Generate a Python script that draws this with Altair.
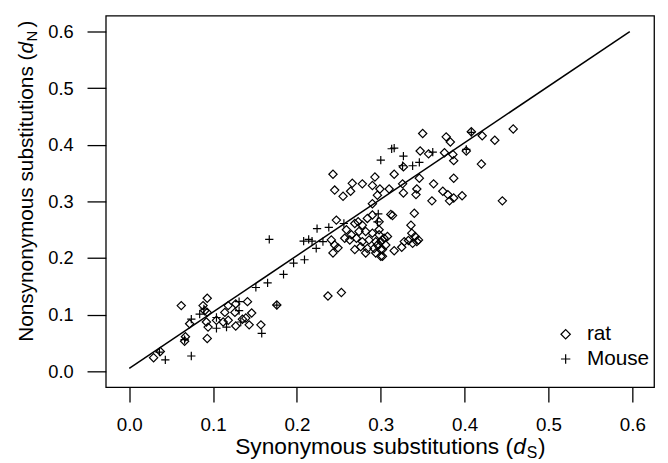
import altair as alt
import pandas as pd

# ---- data ----
rat_x = [0.029, 0.037, 0.062, 0.066, 0.067, 0.072, 0.088, 0.090, 0.093, 0.093, 0.092, 0.094, 0.093,
         0.104, 0.112, 0.114, 0.118, 0.118, 0.126, 0.127, 0.127, 0.135, 0.139, 0.141, 0.143, 0.146,
         0.157, 0.176,
         0.237, 0.253,
         0.241, 0.245, 0.243, 0.249, 0.247, 0.257, 0.265, 0.263, 0.269, 0.259, 0.269, 0.273, 0.278,
         0.284, 0.290, 0.298, 0.274, 0.282, 0.290, 0.298, 0.271, 0.278, 0.286, 0.294, 0.302, 0.276,
         0.284, 0.292, 0.300, 0.282, 0.294, 0.302, 0.298, 0.304, 0.300, 0.306, 0.302, 0.300, 0.308,
         0.296,
         0.340, 0.312, 0.314, 0.336, 0.337, 0.341, 0.345, 0.333, 0.328, 0.325, 0.316, 0.338, 0.343,
         0.243, 0.245, 0.255, 0.264, 0.266, 0.278, 0.293, 0.290, 0.299, 0.310, 0.316, 0.327, 0.326,
         0.327, 0.296, 0.290, 0.343, 0.342, 0.346, 0.363, 0.361, 0.374, 0.380, 0.382, 0.387, 0.397,
         0.387, 0.350, 0.378, 0.383, 0.408, 0.421, 0.436, 0.458, 0.347, 0.357, 0.376, 0.386, 0.387,
         0.402, 0.420, 0.445]
rat_y = [0.024, 0.035, 0.116, 0.053, 0.061, 0.084, 0.116, 0.107, 0.129, 0.104, 0.087, 0.078, 0.058,
         0.090, 0.087, 0.104, 0.116, 0.090, 0.104, 0.119, 0.080, 0.092, 0.094, 0.123, 0.082, 0.103,
         0.082, 0.117,
         0.133, 0.139,
         0.232, 0.223, 0.209, 0.218, 0.267, 0.235, 0.241, 0.232, 0.215, 0.250, 0.261, 0.264, 0.258,
         0.270, 0.276, 0.264, 0.247, 0.247, 0.244, 0.250, 0.235, 0.229, 0.232, 0.229, 0.232, 0.220,
         0.217, 0.217, 0.215, 0.209, 0.209, 0.203, 0.241, 0.235, 0.229, 0.223, 0.215, 0.203, 0.238,
         0.223,
         0.279, 0.277, 0.275, 0.258, 0.244, 0.238, 0.232, 0.231, 0.229, 0.219, 0.213, 0.226, 0.229,
         0.348, 0.320, 0.309, 0.318, 0.332, 0.331, 0.343, 0.328, 0.322, 0.322, 0.348, 0.361, 0.331,
         0.315, 0.311, 0.296, 0.322, 0.312, 0.341, 0.331, 0.301, 0.318, 0.312, 0.301, 0.306, 0.310,
         0.341, 0.420, 0.414, 0.405, 0.423, 0.416, 0.408, 0.428, 0.389, 0.384, 0.386, 0.383, 0.372,
         0.389, 0.366, 0.301]

mouse_x = [0.043, 0.036, 0.074, 0.066, 0.074, 0.084, 0.089, 0.104, 0.104, 0.116, 0.131, 0.131,
           0.133, 0.151, 0.165, 0.158, 0.176, 0.184, 0.196, 0.209, 0.167, 0.208, 0.214, 0.218,
           0.223, 0.231, 0.224, 0.238, 0.256, 0.297, 0.296,
           0.300, 0.313, 0.316, 0.327, 0.326, 0.338, 0.346, 0.362, 0.402, 0.408]
mouse_y = [0.020, 0.034, 0.027, 0.056, 0.092, 0.101, 0.110, 0.095, 0.076, 0.078, 0.123, 0.107,
           0.087, 0.148, 0.156, 0.067, 0.117, 0.171, 0.191, 0.197, 0.233, 0.230, 0.233, 0.230,
           0.217, 0.229, 0.252, 0.254, 0.261, 0.278, 0.264,
           0.373, 0.393, 0.394, 0.380, 0.363, 0.363, 0.369, 0.387, 0.392, 0.422]

line_x = [0.0, 0.597]
line_y = [0.005, 0.600]

tick_values = [0.0, 0.1, 0.2, 0.3, 0.4, 0.5, 0.6]
species = ["rat", "Mouse"]

FONT = "Liberation Sans"

pts = pd.DataFrame({
    "ds": rat_x + mouse_x,
    "dn": rat_y + mouse_y,
    "species": ["rat"] * len(rat_x) + ["Mouse"] * len(mouse_x),
})
line_df = pd.DataFrame({"ds": line_x, "dn": line_y})

xscale = alt.Scale(domain=[-0.028, 0.626], nice=False, zero=False)
yscale = alt.Scale(domain=[-0.028, 0.628], nice=False, zero=False)

xaxis = alt.Axis(values=tick_values, format=".1f", domain=False, grid=False, tickSize=15,
                 tickWidth=1.3, tickColor="black", labelFontSize=19, labelFont=FONT,
                 labelColor="black", labelPadding=14, title=None)
yaxis = alt.Axis(values=tick_values, format=".1f", domain=False, grid=False, tickSize=19,
                 tickWidth=1.3, tickColor="black", labelFontSize=18.5, labelFont=FONT,
                 labelColor="black", labelPadding=14, title=None)

line = alt.Chart(line_df).mark_line(color="black", strokeWidth=1.5).encode(
    x=alt.X("ds:Q", scale=xscale, axis=xaxis),
    y=alt.Y("dn:Q", scale=yscale, axis=yaxis),
)

points = alt.Chart(pts).mark_point(filled=False, color="black", strokeWidth=1.2, opacity=1,
                                   size=70).encode(
    x=alt.X("ds:Q", scale=xscale),
    y=alt.Y("dn:Q", scale=yscale),
    shape=alt.Shape("species:N",
                    scale=alt.Scale(domain=species, range=["diamond", "M-1,0H1M0,-1V1"]),
                    legend=alt.Legend(title=None, orient="none", legendX=455, legendY=312,
                                      labelFont=FONT, labelFontSize=21, labelColor="black",
                                      labelOffset=11, rowPadding=3, symbolSize=90,
                                      symbolStrokeColor="black", symbolStrokeWidth=1.2,
                                      symbolFillColor="white", padding=0)),
)

one = pd.DataFrame({"k": [0]})


def txt(s, x, y, size=21, italic=False, angle=0):
    kw = dict(text=s, font=FONT, fontSize=size, color="black", align="left",
              baseline="alphabetic")
    if italic:
        kw["fontStyle"] = "italic"
    if angle:
        kw["angle"] = angle
    return alt.Chart(one).mark_text(**kw).encode(x=alt.value(x), y=alt.value(y))


# x title: Synonymous substitutions (d_S)
XB = 444
xt = [
    txt("Synonymous substitutions (", 131, XB, size=23),
    txt("d", 412.5, XB, size=23, italic=True),
    txt("S", 426, XB + 4, size=16),
    txt(")", 437.5, XB, size=23),
]
# y title: Nonsynonymous substitutions (d_N)
yt = [
    txt("Nonsynonymous substitutions (", -74, 330, angle=270),
    txt("d", -74, 38.2, italic=True, angle=270),
    txt("N", -70, 26, size=15, angle=270),
    txt(")", -74, 12, angle=270),
]

chart = alt.layer(line, points, *xt, *yt).properties(
    width=555, height=376,
    autosize=alt.AutoSizeParams(type="none"),
    padding={"left": 99, "top": 5, "right": 6, "bottom": 74},
).configure(background="white").configure_view(stroke="black", strokeWidth=1.3)

chart.save("out.html", embed_options={"renderer": "svg", "actions": False})
